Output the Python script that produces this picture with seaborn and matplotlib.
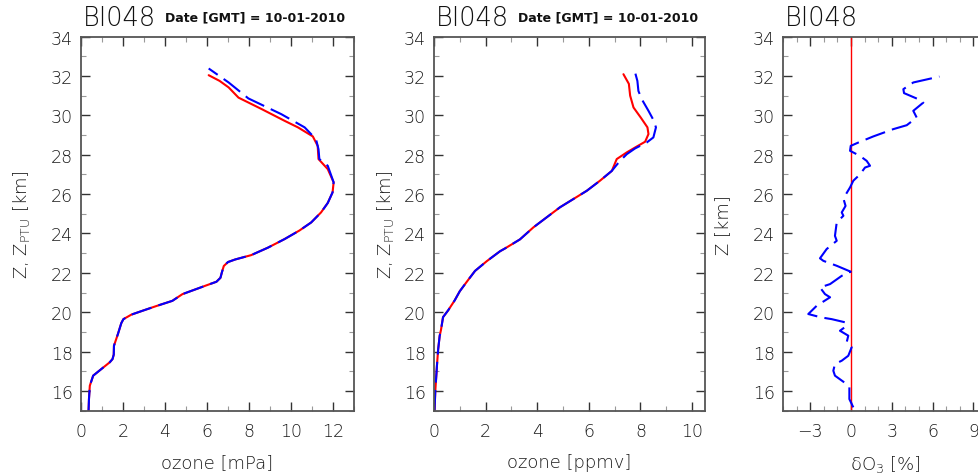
import numpy as np
import pandas as pd
import matplotlib
matplotlib.use("Agg")
import matplotlib.pyplot as plt
import seaborn as sns
from matplotlib.ticker import MultipleLocator

# ---- data ----
STATION = "BI048"
DATE_TEXT = "Date [GMT] = 10-01-2010"

# panel 1: ozone partial pressure [mPa]; lower part shared by both profiles
mpa_low_x = [0.36, 0.38, 0.42, 0.58, 0.95, 1.37, 1.5, 1.56, 1.57, 1.76, 1.92, 2.02, 2.4, 2.94, 3.6,
             4.35, 4.83, 5.93, 6.45, 6.64, 6.71, 6.8, 7.0, 7.34, 8.1, 8.9, 9.7, 10.4, 10.96, 11.43,
             11.75, 11.98, 12.03]
mpa_low_z = [15.0, 15.6, 16.27, 16.78, 17.1, 17.46, 17.62, 17.85, 18.3, 18.9, 19.45, 19.65, 19.88,
             20.08, 20.32, 20.58, 20.92, 21.35, 21.55, 21.75, 22.03, 22.35, 22.55, 22.68, 22.9,
             23.28, 23.72, 24.15, 24.56, 25.07, 25.55, 26.09, 26.6]
mpa_red_top_x = [11.75, 11.31, 11.27, 11.04, 10.33, 9.7, 8.6, 7.5, 7.03, 6.6, 6.08]
mpa_red_top_z = [27.27, 27.78, 28.45, 28.93, 29.39, 29.72, 30.32, 30.9, 31.42, 31.75, 32.04]
mpa_blue_top_x = [11.75, 11.35, 11.31, 11.19, 10.65, 9.54, 7.97, 7.03, 6.08]
mpa_blue_top_z = [27.44, 27.78, 28.28, 28.79, 29.39, 30.06, 30.86, 31.67, 32.38]

# panel 2: ozone mixing ratio [ppmv]
ppmv_low_x = [0.02, 0.05, 0.08, 0.12, 0.16, 0.22, 0.27, 0.35, 0.55, 0.8, 1.0, 1.3, 1.59, 2.05,
              2.56, 2.75, 3.33, 3.85, 4.88, 5.92, 6.43, 6.89]
ppmv_low_z = [15.0, 16.0, 16.6, 17.4, 18.1, 18.8, 19.1, 19.75, 20.1, 20.6, 21.07, 21.6, 22.1,
              22.6, 23.1, 23.24, 23.7, 24.31, 25.33, 26.17, 26.68, 27.18]
ppmv_red_top_x = [7.08, 7.47, 7.86, 8.18, 8.31, 8.27, 8.01, 7.73, 7.6, 7.55, 7.34]
ppmv_red_top_z = [27.78, 28.12, 28.42, 28.66, 29.05, 29.39, 29.89, 30.4, 31.0, 31.6, 32.09]
ppmv_blue_top_x = [7.05, 7.21, 7.47, 7.79, 8.24, 8.5, 8.6, 8.5, 8.31, 8.05, 7.92, 7.88, 7.75]
ppmv_blue_top_z = [27.44, 27.69, 28.03, 28.32, 28.62, 28.88, 29.39, 29.77, 30.23, 30.82, 31.24,
                   31.75, 32.38]

# panel 3: relative difference [%]
diff_x = [0.17, -0.12, -0.12, -0.56, -1.18, -1.3, -1.18, -0.68, -0.2, 0.05, -0.32, -0.2, -0.81,
          -0.32, -0.44, -1.42, -2.21, -3.14, -2.52, -1.54, -1.91, -2.28, -1.54, -0.68, -0.02,
          -1.05, -2.03, -2.28, -1.79, -1.05, -1.18, -1.05, -0.56, -0.68, -0.4, -0.56, -0.07,
          0.17, 0.66, 1.03, 1.4, 1.15, 0.66, -0.07, -0.02, 0.54, 1.64, 3.11, 4.1, 4.83, 4.58,
          5.32, 4.95, 3.9, 3.85, 4.58, 6.5]
diff_z = [15.17, 15.59, 16.19, 16.47, 16.78, 17.03, 17.37, 17.54, 17.79, 18.22, 18.47, 18.81,
          19.06, 19.31, 19.49, 19.65, 19.74, 19.91, 20.33, 20.76, 20.92, 21.26, 21.43, 21.85,
          22.06, 22.36, 22.61, 22.74, 23.21, 23.63, 23.88, 24.56, 24.9, 25.07, 25.4, 25.78,
          26.34, 26.68, 27.0, 27.35, 27.44, 27.69, 27.94, 28.2, 28.45, 28.62, 28.93, 29.3, 29.5,
          29.89, 30.23, 30.65, 30.82, 31.13, 31.33, 31.67, 31.97]
ref_x = [0, 0]
ref_z = [15, 34]

# ---- style ----
sns.set_style("ticks")
plt.rcParams["font.family"] = ["DejaVu Sans"]
plt.rcParams["font.weight"] = "light"
plt.rcParams["text.color"] = "#1a1a1a"
plt.rcParams["axes.labelcolor"] = "#1a1a1a"
plt.rcParams["axes.labelweight"] = "light"
plt.rcParams["xtick.color"] = "#333333"
plt.rcParams["ytick.color"] = "#333333"
plt.rcParams["xtick.labelcolor"] = "#1a1a1a"
plt.rcParams["ytick.labelcolor"] = "#1a1a1a"

RED = "#ff0000"
BLUE = "#0000ff"
DASH = (0, (10, 3.5))
LW = 1.5

W, H = 979, 477
fig = plt.figure(figsize=(W / 100, H / 100), dpi=100)
bottom = 1 - 411.7 / H
height = (411.7 - 37.6) / H
ax1 = fig.add_axes([81 / W, bottom, 273 / W, height])
ax2 = fig.add_axes([434 / W, bottom, 271 / W, height])
ax3 = fig.add_axes([783 / W, bottom, 204 / W, height])


def profile(ax, x, z, color, ls="-"):
    df = pd.DataFrame({"x": x, "z": z})
    sns.lineplot(data=df, x="x", y="z", sort=False, estimator=None, ax=ax,
                 color=color, lw=LW, linestyle=ls)


profile(ax1, mpa_low_x + mpa_red_top_x, mpa_low_z + mpa_red_top_z, RED)
profile(ax1, mpa_low_x + mpa_blue_top_x, mpa_low_z + mpa_blue_top_z, BLUE, DASH)

profile(ax2, ppmv_low_x + ppmv_red_top_x, ppmv_low_z + ppmv_red_top_z, RED)
profile(ax2, ppmv_low_x + ppmv_blue_top_x, ppmv_low_z + ppmv_blue_top_z, BLUE, DASH)

sns.lineplot(x=ref_x, y=ref_z, sort=False, estimator=None, ax=ax3, color=RED, lw=1.0)
profile(ax3, diff_x, diff_z, BLUE, DASH)

setup = [
    (ax1, (0, 13), 2, 1, "ozone [mPa]", r"Z, Z$\mathregular{_{PTU}}$ [km]", -0.18, True),
    (ax2, (0, 10.5), 2, 1, "ozone [ppmv]", r"Z, Z$\mathregular{_{PTU}}$ [km]", -0.14, True),
    (ax3, (-5, 10), 3, 1, r"δO$\mathregular{_3}$ [%]", "Z [km]", -0.25, False),
]
for ax, xlim, xmaj, xmin, xl, yl, ylx, dated in setup:
    ax.set_xlim(*xlim)
    ax.set_ylim(15, 34)
    ax.xaxis.set_major_locator(MultipleLocator(xmaj))
    ax.xaxis.set_minor_locator(MultipleLocator(xmin))
    ax.yaxis.set_major_locator(MultipleLocator(2))
    ax.yaxis.set_minor_locator(MultipleLocator(1))
    ax.tick_params(which="both", direction="in", top=True, right=True, labelsize=12.5)
    ax.tick_params(which="major", length=6.5, width=1.0)
    ax.tick_params(which="minor", length=3.6, width=0.8, color="#999999")
    ax.tick_params(axis="x", which="major", pad=8)
    ax.tick_params(axis="y", which="major", pad=6)
    for s in ax.spines.values():
        s.set_visible(True)
        s.set_color("#555555")
        s.set_linewidth(1.3)
    ax.set_xlabel(xl, fontsize=13)
    ax.set_ylabel(yl, fontsize=13)
    ax.xaxis.set_label_coords(0.5, -0.113)
    ax.yaxis.set_label_coords(ylx, 0.5)
    ax.annotate(STATION, xy=(0, 1), xycoords="axes fraction", xytext=(2, 11.6),
                textcoords="offset pixels", fontsize=18.5, va="baseline", color="#111111")
    if dated:
        ax.annotate(DATE_TEXT, xy=(0, 1), xycoords="axes fraction", xytext=(84, 16),
                    textcoords="offset pixels", fontsize=9, fontweight="bold",
                    va="baseline", color="#111111")

fig.savefig("out.png", dpi=100)
